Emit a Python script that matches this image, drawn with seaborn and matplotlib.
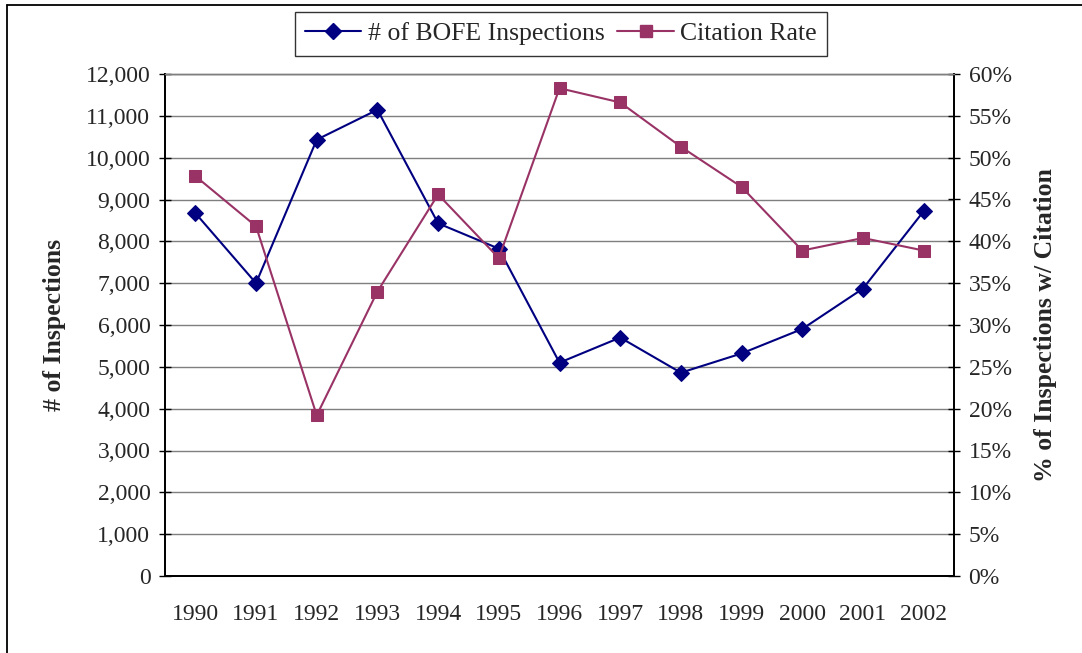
import numpy as np
import pandas as pd
import seaborn as sns
import matplotlib
matplotlib.use("Agg")
import matplotlib.pyplot as plt
from matplotlib.ticker import FuncFormatter, MultipleLocator, FixedLocator
from matplotlib.lines import Line2D

years = ["1990", "1991", "1992", "1993", "1994", "1995", "1996",
         "1997", "1998", "1999", "2000", "2001", "2002"]
inspections = [8675, 7000, 10430, 11145, 8430, 7825, 5100,
               5700, 4860, 5320, 5905, 6870, 8720]
citation_rate = [47.8, 41.8, 19.2, 34.0, 45.6, 38.0, 58.3,
                 56.6, 51.3, 46.5, 38.9, 40.4, 38.9]

sns.set_style("white")
plt.rcParams['font.family'] = ['Liberation Serif', 'DejaVu Serif']

FS = 17
LFS = 18.5
navy = "#000080"
plum = "#993366"

df = pd.DataFrame({"idx": np.arange(len(years)), "year": years,
                   "insp": inspections, "rate": citation_rate})

fig = plt.figure(figsize=(10.82, 6.53), dpi=100)
ax = fig.add_axes([165/1082, 1-576/653, (954-165)/1082, (576-74)/653])
ax2 = ax.twinx()

sns.lineplot(data=df, x="idx", y="insp", ax=ax, color=navy, marker="D",
             markersize=8, markeredgecolor=navy, linewidth=1.5)
sns.lineplot(data=df, x="idx", y="rate", ax=ax2, color=plum, marker="s",
             markersize=8, markeredgecolor=plum, linewidth=1.5)

ax.set_xlim(-0.5, len(years) - 0.5)
ax.set_ylim(0, 12000)
ax2.set_ylim(0, 60)

# gridlines
for v in range(1000, 12001, 1000):
    ax.axhline(v, color="#7f7f7f", linewidth=1.0, zorder=0)
ax.set_axisbelow(True)

ax.yaxis.set_major_locator(MultipleLocator(1000))
ax.yaxis.set_major_formatter(FuncFormatter(lambda v, p: f"{int(v):,}"))
ax2.yaxis.set_major_locator(MultipleLocator(5))
ax2.yaxis.set_major_formatter(FuncFormatter(lambda v, p: f"{int(v)}%"))

ax.set_xticks(np.arange(len(years)))
ax.set_xticklabels(years)
ax.xaxis.set_minor_locator(FixedLocator(np.arange(-0.5, len(years), 1.0)))
ax.tick_params(axis="x", which="major", length=0, labelsize=FS, pad=20)
ax.tick_params(axis="x", which="minor", length=8, width=1, direction="out", color="black")
ax.tick_params(axis="y", which="major", length=9, width=1, direction="inout", labelsize=FS, pad=6, color="black", left=True)
ax2.tick_params(axis="y", which="major", length=9, width=1, direction="inout", labelsize=FS, pad=6, color="black", right=True)

for a in (ax, ax2):
    for s in a.spines.values():
        s.set_visible(True)
        s.set_color("black")
        s.set_linewidth(1.3)
    a.spines["top"].set_color("#7f7f7f")
    a.spines["top"].set_linewidth(1.0)

ax.set_xlabel("")
ax.set_ylabel("# of Inspections", fontsize=LFS, fontweight="bold", labelpad=14)
ax2.set_ylabel("% of Inspections w/ Citation", fontsize=LFS, fontweight="bold", labelpad=16)

handles = [Line2D([], [], color=navy, marker="D", markersize=8, linewidth=1.5),
           Line2D([], [], color=plum, marker="s", markersize=8, linewidth=1.5)]
leg = fig.legend(handles, ["# of BOFE Inspections", "Citation Rate"], loc="upper center",
                 bbox_to_anchor=(561/1082, 1-12/653), ncol=2, fontsize=LFS,
                 frameon=True, fancybox=False, edgecolor="black", handlelength=2.2,
                 handletextpad=0.25, columnspacing=0.5, borderpad=0.4,
                 borderaxespad=0)
leg.get_frame().set_linewidth(1.0)

# outer chart border (left and top visible)
fig.add_artist(plt.Line2D([7/1082, 7/1082], [0, 1-5/653], transform=fig.transFigure, color="black", linewidth=1.3))
fig.add_artist(plt.Line2D([7/1082, 1], [1-5/653, 1-5/653], transform=fig.transFigure, color="black", linewidth=1.3))

fig.savefig("out.png", dpi=100)
